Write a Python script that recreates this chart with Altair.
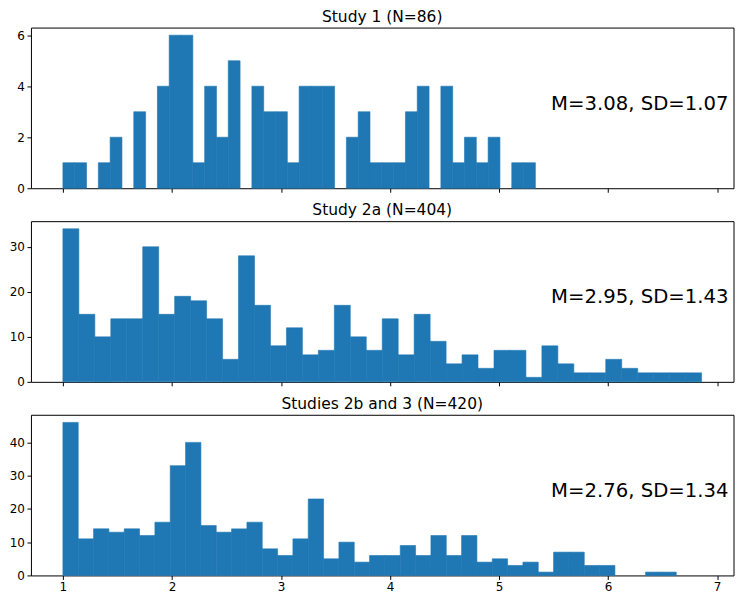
import altair as alt
import numpy as np
import pandas as pd

# ---- data ----
titles = ["Study 1 (N=86)", "Study 2a (N=404)", "Studies 2b and 3 (N=420)"]
stats = ["M=3.08, SD=1.07", "M=2.95, SD=1.43", "M=2.76, SD=1.34"]

# 40 equal-width bins per study, range (min, max)
ranges = [(1.0, 5.333), (1.0, 6.857), (1.0, 6.625)]

counts_study1 = [1, 1, 0, 1, 2, 0, 3, 0, 4, 6,
                 6, 1, 4, 2, 5, 0, 4, 3, 3, 1,
                 4, 4, 4, 0, 2, 3, 1, 1, 1, 3,
                 4, 0, 4, 1, 2, 1, 2, 0, 1, 1]
counts_study2a = [34, 15, 10, 14, 14, 30, 15, 19, 18, 14,
                  5, 28, 17, 8, 12, 6, 7, 17, 10, 7,
                  14, 6, 15, 9, 4, 6, 3, 7, 7, 1,
                  8, 4, 2, 2, 5, 3, 2, 2, 2, 2]
counts_study2b3 = [46, 11, 14, 13, 14, 12, 16, 33, 40, 15,
                   13, 14, 16, 8, 6, 11, 23, 5, 10, 4,
                   6, 6, 9, 6, 12, 6, 12, 4, 5, 3,
                   4, 1, 7, 7, 3, 3, 0, 0, 1, 1]
all_counts = [counts_study1, counts_study2a, counts_study2b3]

y_ticks = [[0, 2, 4, 6], [0, 10, 20, 30], [0, 10, 20, 30, 40]]
x_ticks = [1, 2, 3, 4, 5, 6, 7]
x_domain = [0.707, 7.15]

W, H = 704, 161
BLUE = "#1f77b4"
FONT = "DejaVu Sans"


def panel(i, show_x_labels):
    lo, hi = ranges[i]
    counts = all_counts[i]
    edges = np.linspace(lo, hi, len(counts) + 1)
    df = pd.DataFrame({"start": edges[:-1], "end": edges[1:], "count": counts})
    df = df[df["count"] > 0]
    ymax = max(counts) * 1.05

    bars = alt.Chart(df).mark_bar(
        color=BLUE, stroke=BLUE, strokeWidth=0.6, cornerRadius=0
    ).encode(
        x=alt.X("start:Q",
                scale=alt.Scale(domain=x_domain, nice=False, zero=False),
                axis=alt.Axis(values=x_ticks, labels=show_x_labels, title=None,
                              format="d", labelFlush=False)),
        x2="end:Q",
        y=alt.Y("count:Q",
                scale=alt.Scale(domain=[0, ymax], nice=False),
                axis=alt.Axis(values=y_ticks[i], title=None, format="d")),
        y2=alt.datum(0),
    )

    stat = alt.Chart(pd.DataFrame({"t": [stats[i]]})).mark_text(
        align="right", baseline="middle", fontSize=19.7, font=FONT, color="black"
    ).encode(text="t:N", x=alt.value(W - 5), y=alt.value(H * 0.475))

    title = alt.Chart(pd.DataFrame({"t": [titles[i]]})).mark_text(
        align="center", baseline="alphabetic", fontSize=15.5, font=FONT, color="black"
    ).encode(text="t:N", x=alt.value(W / 2), y=alt.value(-6))

    return alt.layer(bars, stat, title).properties(width=W, height=H)


chart = alt.vconcat(
    panel(0, False), panel(1, False), panel(2, True),
    spacing=33, bounds="flush"
).properties(
    padding={"left": 0, "top": 0, "right": 0.5, "bottom": 2},
).configure_view(
    stroke="black", strokeWidth=1
).configure_axis(
    domain=False, grid=False, tickColor="black", tickSize=4, tickWidth=1,
    labelColor="black", labelFont=FONT, labelFontSize=12, labelPadding=2.5,
    labelOverlap=False
)

chart.save("out.html", embed_options={"renderer": "svg", "actions": False})
